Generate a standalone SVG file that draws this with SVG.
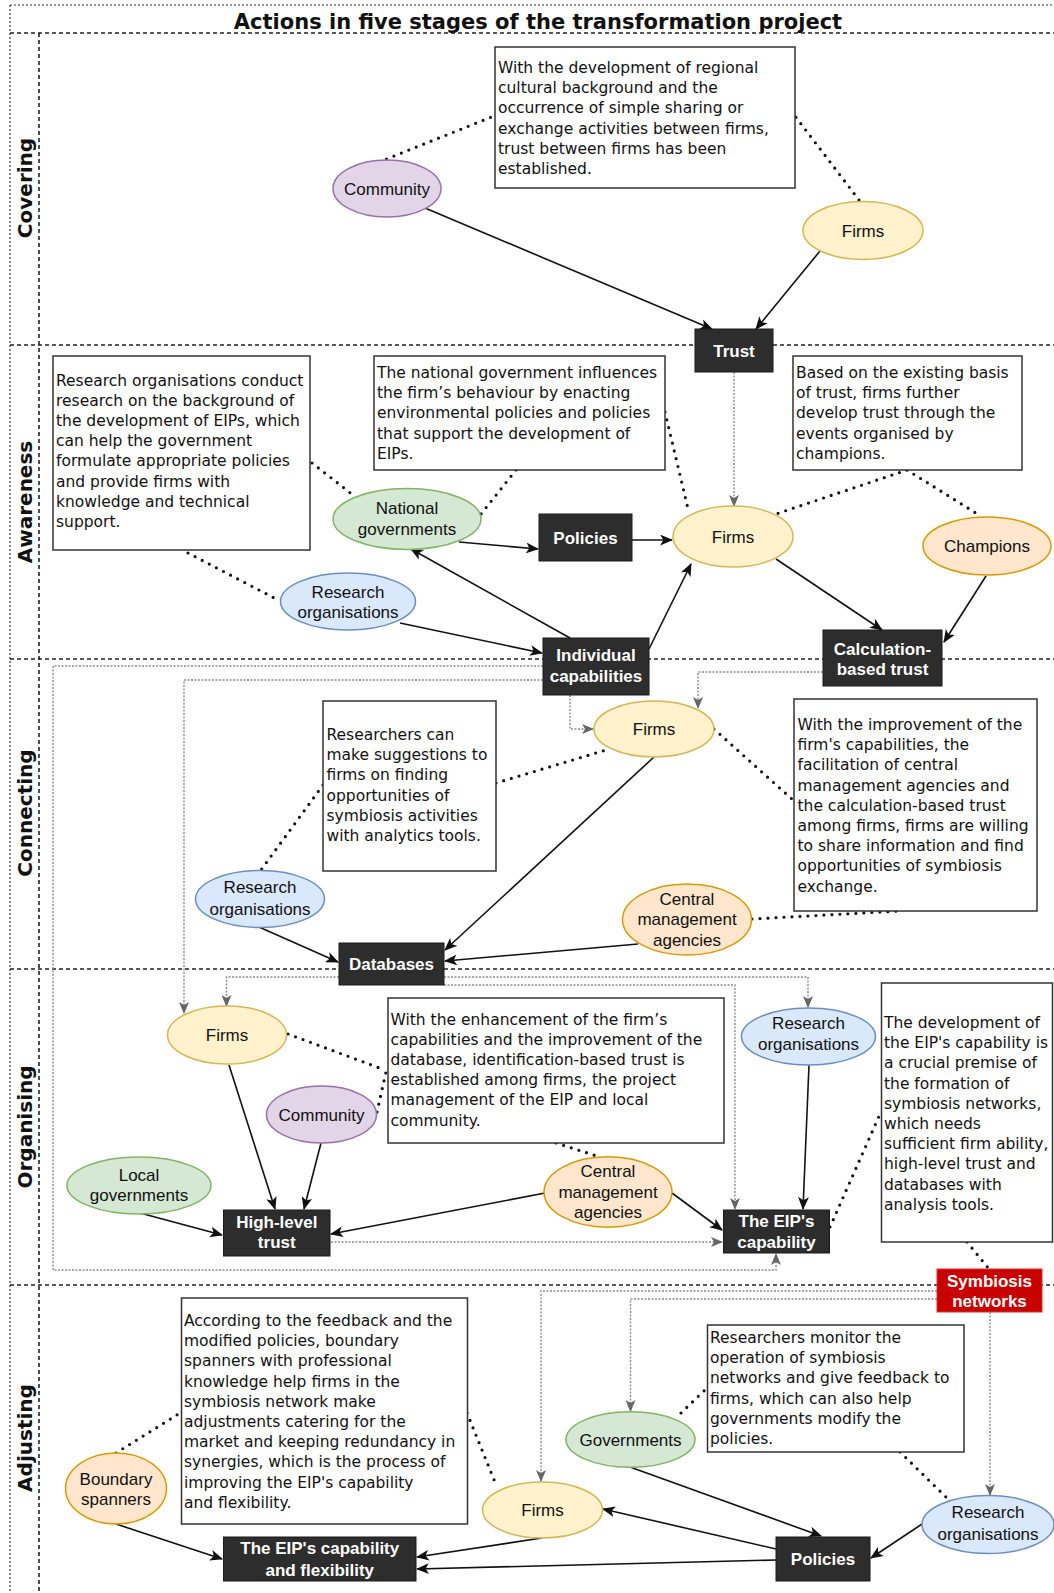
<svg xmlns="http://www.w3.org/2000/svg" width="1054" height="1593" viewBox="0 0 1054 1593">
<style>
.bg{fill:#fff}
.frame{stroke:#333;stroke-width:1.2;stroke-dasharray:2,2;fill:none}
.div{stroke:#222;stroke-width:1.6;stroke-dasharray:4,3;fill:none}
.lane{font-family:"DejaVu Sans",Verdana,sans-serif;font-weight:bold;font-size:20px;fill:#111;text-anchor:middle}
.title{font-family:"DejaVu Sans",Verdana,sans-serif;font-weight:bold;font-size:21px;fill:#111;text-anchor:middle}
.tb{fill:#fff;stroke:#333;stroke-width:1.5}
.tt{font-family:"DejaVu Sans",Verdana,sans-serif;font-size:15.5px;fill:#111}
.nl{font-family:"Liberation Sans",Arial,sans-serif;font-size:17px;fill:#111;text-anchor:middle}
.dk{fill:#2d2d2d;stroke:#1a1a1a;stroke-width:1}
.red{fill:#c80000;stroke:#e03030;stroke-width:1}
.dl{font-family:"Liberation Sans",Arial,sans-serif;font-weight:bold;font-size:17px;fill:#fff;text-anchor:middle}
.pu{fill:#e1d5e7;stroke:#9673a6;stroke-width:1.5}
.ye{fill:#fff2cc;stroke:#d6b656;stroke-width:1.5}
.gr{fill:#d5e8d4;stroke:#82b366;stroke-width:1.5}
.bl{fill:#dae8fc;stroke:#6c8ebf;stroke-width:1.5}
.or{fill:#ffe6cc;stroke:#d79b00;stroke-width:1.5}
.ar{stroke:#111;stroke-width:1.6;fill:none;marker-end:url(#ah)}
.ga{stroke:#8a8a8a;stroke-width:1.4;stroke-dasharray:2,1.5;fill:none;marker-end:url(#gh)}
.dt{stroke:#111;stroke-width:3.2;stroke-dasharray:0,8;stroke-linecap:round;fill:none}
</style>
<defs>
<marker id="ah" viewBox="0 0 12 10" refX="11" refY="5" markerWidth="13" markerHeight="11" markerUnits="userSpaceOnUse" orient="auto"><path d="M0,0 L12,5 L0,10 L3,5 z" fill="#111"/></marker>
<marker id="gh" viewBox="0 0 12 10" refX="11" refY="5" markerWidth="12" markerHeight="10" markerUnits="userSpaceOnUse" orient="auto"><path d="M0,0 L12,5 L0,10 L3,5 z" fill="#666"/></marker>
</defs>
<rect class="bg" x="0" y="0" width="1054" height="1593"/>

<g id="frame">
<line class="frame" x1="10" y1="5" x2="1054" y2="5"/>
<line class="frame" x1="10" y1="5" x2="10" y2="1593"/>
<line class="div" x1="10" y1="33" x2="1054" y2="33"/>
<line class="div" x1="39" y1="33" x2="39" y2="1593"/>
<line class="div" x1="10" y1="345" x2="1054" y2="345"/>
<line class="div" x1="10" y1="659" x2="1054" y2="659"/>
<line class="div" x1="10" y1="969" x2="1054" y2="969"/>
<line class="div" x1="10" y1="1285" x2="1054" y2="1285"/>
<text class="title" x="538" y="28.5">Actions in five stages of the transformation project</text>
<text class="lane" x="32" y="188" transform="rotate(-90 32 188)">Covering</text>
<text class="lane" x="32" y="502" transform="rotate(-90 32 502)">Awareness</text>
<text class="lane" x="32" y="813" transform="rotate(-90 32 813)">Connecting</text>
<text class="lane" x="32" y="1127" transform="rotate(-90 32 1127)">Organising</text>
<text class="lane" x="32" y="1438" transform="rotate(-90 32 1438)">Adjusting</text>
</g>

<g id="connectors">
<line class="ar" x1="425" y1="208" x2="712" y2="329"/>
<line class="ar" x1="820" y1="251" x2="756" y2="329"/>
<line class="ga" x1="734" y1="372" x2="734" y2="506"/>
<line class="ar" x1="459" y1="542" x2="538" y2="549"/>
<line class="ar" x1="632" y1="540" x2="672" y2="540"/>
<line class="ar" x1="570" y1="638" x2="411" y2="549"/>
<line class="ar" x1="400" y1="623" x2="542" y2="653"/>
<line class="ar" x1="649" y1="649" x2="691" y2="564"/>
<line class="ar" x1="776" y1="559" x2="882" y2="630"/>
<line class="ar" x1="986" y1="576" x2="944" y2="642"/>
<path class="ga" d="M570,695 V729 H593"/>
<path class="ga" d="M823,672 H698 V708"/>
<path class="ga" d="M543,680 H184 V1013"/>
<path class="ga" d="M543,666 H53 V1270 H776 V1254"/>
<line class="ar" x1="654" y1="757" x2="445" y2="950"/>
<line class="ar" x1="259" y1="927" x2="338" y2="962"/>
<line class="ar" x1="638" y1="944" x2="445" y2="961"/>
<path class="ga" d="M339,977 H226.5 V1006"/>
<path class="ga" d="M444,977 H808 V1007"/>
<path class="ga" d="M444,985 H735 V1209"/>
<line class="ar" x1="229" y1="1065" x2="275" y2="1209"/>
<line class="ar" x1="321" y1="1143" x2="304" y2="1209"/>
<line class="ar" x1="140" y1="1213" x2="222" y2="1235"/>
<line class="ar" x1="545" y1="1193" x2="331" y2="1234"/>
<line class="ar" x1="672" y1="1193" x2="722" y2="1230"/>
<line class="ar" x1="809" y1="1065" x2="803" y2="1209"/>
<line class="ga" x1="331" y1="1242" x2="722" y2="1242"/>
<path class="ga" d="M937,1291 H541 V1481"/>
<path class="ga" d="M937,1299 H630.5 V1411"/>
<path class="ga" d="M990,1312 V1495"/>
<line class="ar" x1="116" y1="1524" x2="222" y2="1559"/>
<line class="ar" x1="542" y1="1538" x2="417" y2="1557"/>
<line class="ar" x1="776" y1="1560" x2="417" y2="1569"/>
<line class="ar" x1="776" y1="1549" x2="603" y2="1509"/>
<line class="ar" x1="630" y1="1467" x2="821" y2="1536"/>
<line class="ar" x1="922" y1="1524" x2="871" y2="1558"/>
<line class="dt" x1="386.5" y1="159" x2="494" y2="116"/>
<line class="dt" x1="859" y1="200" x2="795" y2="116"/>
<line class="dt" x1="312" y1="463" x2="353" y2="495"/>
<line class="dt" x1="188" y1="553" x2="280" y2="601"/>
<line class="dt" x1="516" y1="470" x2="481" y2="514"/>
<line class="dt" x1="665" y1="412" x2="689" y2="513"/>
<line class="dt" x1="907" y1="470" x2="776" y2="514"/>
<line class="dt" x1="907" y1="470" x2="979" y2="515"/>
<line class="dt" x1="323" y1="785" x2="261" y2="870"/>
<line class="dt" x1="496" y1="783" x2="606" y2="750"/>
<line class="dt" x1="714" y1="729" x2="793" y2="800"/>
<line class="dt" x1="752" y1="919" x2="900" y2="911"/>
<line class="dt" x1="288" y1="1034" x2="385" y2="1070"/>
<line class="dt" x1="377" y1="1112" x2="386" y2="1072"/>
<line class="dt" x1="556" y1="1143" x2="600" y2="1157"/>
<line class="dt" x1="830" y1="1227" x2="880" y2="1114"/>
<line class="dt" x1="967" y1="1242" x2="989" y2="1269"/>
<line class="dt" x1="116" y1="1453" x2="180" y2="1413"/>
<line class="dt" x1="467" y1="1413" x2="497" y2="1487"/>
<line class="dt" x1="681" y1="1413" x2="707" y2="1388"/>
<line class="dt" x1="900" y1="1452" x2="949" y2="1500"/>
</g>

<g id="note-covering">
<rect class="tb" x="495" y="47" width="300" height="141"/>
<text class="tt"><tspan x="498" y="73">With the development of regional</tspan><tspan x="498" y="93.2">cultural background and the</tspan><tspan x="498" y="113.4">occurrence of simple sharing or</tspan><tspan x="498" y="133.6">exchange activities between firms,</tspan><tspan x="498" y="153.8">trust between firms has been</tspan><tspan x="498" y="174">established.</tspan></text>
</g>
<g id="community-1"><ellipse class="pu" cx="387" cy="188.5" rx="54" ry="28.5"/><text class="nl" x="387" y="194.5">Community</text></g>
<g id="firms-1"><ellipse class="ye" cx="863" cy="230.5" rx="60" ry="29"/><text class="nl" x="863" y="236.5">Firms</text></g>
<g id="trust"><rect class="dk" x="695" y="329" width="78" height="43"/><text class="dl" x="734" y="356.5">Trust</text></g>

<g id="note-research-1">
<rect class="tb" x="53" y="356" width="257" height="194"/>
<text class="tt"><tspan x="56" y="385.5">Research organisations conduct</tspan><tspan x="56" y="405.7">research on the background of</tspan><tspan x="56" y="425.9">the development of EIPs, which</tspan><tspan x="56" y="446.1">can help the government</tspan><tspan x="56" y="466.3">formulate appropriate policies</tspan><tspan x="56" y="486.5">and provide firms with</tspan><tspan x="56" y="506.7">knowledge and technical</tspan><tspan x="56" y="526.9">support.</tspan></text>
</g>
<g id="note-national">
<rect class="tb" x="374" y="356" width="291" height="114"/>
<text class="tt"><tspan x="377" y="378">The national government influences</tspan><tspan x="377" y="398.2">the firm’s behaviour by enacting</tspan><tspan x="377" y="418.4">environmental policies and policies</tspan><tspan x="377" y="438.6">that support the development of</tspan><tspan x="377" y="458.8">EIPs.</tspan></text>
</g>
<g id="note-champions">
<rect class="tb" x="793" y="356" width="229" height="114"/>
<text class="tt"><tspan x="796" y="378">Based on the existing basis</tspan><tspan x="796" y="398.2">of trust, firms further</tspan><tspan x="796" y="418.4">develop trust through the</tspan><tspan x="796" y="438.6">events organised by</tspan><tspan x="796" y="458.8">champions.</tspan></text>
</g>
<g id="national-governments"><ellipse class="gr" cx="407" cy="519" rx="74" ry="30.5"/><text class="nl"><tspan x="407" y="514">National</tspan><tspan x="407" y="534.5">governments</tspan></text></g>
<g id="research-1"><ellipse class="bl" cx="348" cy="601.5" rx="67.5" ry="28.5"/><text class="nl"><tspan x="348" y="597.5">Research</tspan><tspan x="348" y="617.7">organisations</tspan></text></g>
<g id="policies-1"><rect class="dk" x="539" y="514" width="93" height="47"/><text class="dl" x="585.5" y="543.5">Policies</text></g>
<g id="firms-2"><ellipse class="ye" cx="733" cy="536.5" rx="60" ry="30.5"/><text class="nl" x="733" y="542.5">Firms</text></g>
<g id="champions"><ellipse class="or" cx="987" cy="546" rx="64" ry="29"/><text class="nl" x="987" y="552">Champions</text></g>
<g id="individual-capabilities"><rect class="dk" x="543" y="638" width="106" height="57"/><text class="dl"><tspan x="596" y="660.7">Individual</tspan><tspan x="596" y="682">capabilities</tspan></text></g>
<g id="calculation-trust"><rect class="dk" x="823" y="630" width="119" height="56"/><text class="dl"><tspan x="882.5" y="654.6">Calculation-</tspan><tspan x="882.5" y="674.8">based trust</tspan></text></g>

<g id="firms-3"><ellipse class="ye" cx="654" cy="729" rx="60" ry="28"/><text class="nl" x="654" y="735">Firms</text></g>
<g id="note-researchers">
<rect class="tb" x="323" y="701" width="173" height="170"/>
<text class="tt"><tspan x="326.5" y="740">Researchers can</tspan><tspan x="326.5" y="760.2">make suggestions to</tspan><tspan x="326.5" y="780.4">firms on finding</tspan><tspan x="326.5" y="800.6">opportunities of</tspan><tspan x="326.5" y="820.8">symbiosis activities</tspan><tspan x="326.5" y="841">with analytics tools.</tspan></text>
</g>
<g id="note-improvement">
<rect class="tb" x="794" y="699" width="243" height="212"/>
<text class="tt"><tspan x="797.5" y="730">With the improvement of the</tspan><tspan x="797.5" y="750.2">firm's capabilities, the</tspan><tspan x="797.5" y="770.4">facilitation of central</tspan><tspan x="797.5" y="790.6">management agencies and</tspan><tspan x="797.5" y="810.8">the calculation-based trust</tspan><tspan x="797.5" y="831">among firms, firms are willing</tspan><tspan x="797.5" y="851.2">to share information and find</tspan><tspan x="797.5" y="871.4">opportunities of symbiosis</tspan><tspan x="797.5" y="891.6">exchange.</tspan></text>
</g>
<g id="research-2"><ellipse class="bl" cx="260" cy="899" rx="64.5" ry="28.5"/><text class="nl"><tspan x="260" y="893.3">Research</tspan><tspan x="260" y="915.2">organisations</tspan></text></g>
<g id="central-1"><ellipse class="or" cx="687" cy="919.5" rx="64.5" ry="35.5"/><text class="nl"><tspan x="687" y="905">Central</tspan><tspan x="687" y="925.2">management</tspan><tspan x="687" y="946">agencies</tspan></text></g>
<g id="databases"><rect class="dk" x="339" y="943" width="105" height="42"/><text class="dl" x="391.5" y="970">Databases</text></g>

<g id="firms-4"><ellipse class="ye" cx="227" cy="1035" rx="59.5" ry="29"/><text class="nl" x="227" y="1041">Firms</text></g>
<g id="note-enhancement">
<rect class="tb" x="388" y="998" width="336" height="145"/>
<text class="tt"><tspan x="390.5" y="1024.5">With the enhancement of the firm’s</tspan><tspan x="390.5" y="1044.7">capabilities and the improvement of the</tspan><tspan x="390.5" y="1064.9">database, identification-based trust is</tspan><tspan x="390.5" y="1085.1">established among firms, the project</tspan><tspan x="390.5" y="1105.3">management of the EIP and local</tspan><tspan x="390.5" y="1125.5">community.</tspan></text>
</g>
<g id="community-2"><ellipse class="pu" cx="321.5" cy="1114.5" rx="55" ry="28.5"/><text class="nl" x="321.5" y="1120.5">Community</text></g>
<g id="local-governments"><ellipse class="gr" cx="139" cy="1185.5" rx="72" ry="28.5"/><text class="nl"><tspan x="139" y="1180.6">Local</tspan><tspan x="139" y="1200.8">governments</tspan></text></g>
<g id="high-level-trust"><rect class="dk" x="223.5" y="1210" width="106.5" height="46"/><text class="dl"><tspan x="276.75" y="1227.7">High-level</tspan><tspan x="276.75" y="1247.8">trust</tspan></text></g>
<g id="central-2"><ellipse class="or" cx="608" cy="1192" rx="64" ry="35.3"/><text class="nl"><tspan x="608" y="1177.2">Central</tspan><tspan x="608" y="1198">management</tspan><tspan x="608" y="1218.3">agencies</tspan></text></g>
<g id="eip-capability"><rect class="dk" x="723.5" y="1210" width="106" height="43"/><text class="dl"><tspan x="776.5" y="1226.7">The EIP's</tspan><tspan x="776.5" y="1247.8">capability</tspan></text></g>
<g id="research-3"><ellipse class="bl" cx="808.5" cy="1036.5" rx="67" ry="28.5"/><text class="nl"><tspan x="808.5" y="1029">Research</tspan><tspan x="808.5" y="1050">organisations</tspan></text></g>
<g id="note-development">
<rect class="tb" x="881.5" y="983" width="171" height="259"/>
<text class="tt"><tspan x="884" y="1028">The development of</tspan><tspan x="884" y="1048.2">the EIP's capability is</tspan><tspan x="884" y="1068.4">a crucial premise of</tspan><tspan x="884" y="1088.6">the formation of</tspan><tspan x="884" y="1108.8">symbiosis networks,</tspan><tspan x="884" y="1129">which needs</tspan><tspan x="884" y="1149.2">sufficient firm ability,</tspan><tspan x="884" y="1169.4">high-level trust and</tspan><tspan x="884" y="1189.6">databases with</tspan><tspan x="884" y="1209.8">analysis tools.</tspan></text>
</g>
<g id="symbiosis-networks"><rect class="red" x="937" y="1269" width="105" height="43"/><text class="dl"><tspan x="989.5" y="1286.5">Symbiosis</tspan><tspan x="989.5" y="1307.3">networks</tspan></text></g>

<g id="note-feedback">
<rect class="tb" x="181.5" y="1298" width="286" height="226"/>
<text class="tt"><tspan x="184" y="1326">According to the feedback and the</tspan><tspan x="184" y="1346.2">modified policies, boundary</tspan><tspan x="184" y="1366.4">spanners with professional</tspan><tspan x="184" y="1386.6">knowledge help firms in the</tspan><tspan x="184" y="1406.8">symbiosis network make</tspan><tspan x="184" y="1427">adjustments catering for the</tspan><tspan x="184" y="1447.2">market and keeping redundancy in</tspan><tspan x="184" y="1467.4">synergies, which is the process of</tspan><tspan x="184" y="1487.6">improving the EIP's capability</tspan><tspan x="184" y="1507.8">and flexibility.</tspan></text>
</g>
<g id="note-monitor">
<rect class="tb" x="707.5" y="1325" width="256.5" height="127"/>
<text class="tt"><tspan x="710" y="1343">Researchers monitor the</tspan><tspan x="710" y="1363.2">operation of symbiosis</tspan><tspan x="710" y="1383.4">networks and give feedback to</tspan><tspan x="710" y="1403.6">firms, which can also help</tspan><tspan x="710" y="1423.8">governments modify the</tspan><tspan x="710" y="1444">policies.</tspan></text>
</g>
<g id="boundary-spanners"><ellipse class="or" cx="116" cy="1488.5" rx="50.5" ry="35.5"/><text class="nl"><tspan x="116" y="1484.8">Boundary</tspan><tspan x="116" y="1505">spanners</tspan></text></g>
<g id="firms-5"><ellipse class="ye" cx="542.5" cy="1510" rx="60" ry="28"/><text class="nl" x="542.5" y="1516">Firms</text></g>
<g id="governments"><ellipse class="gr" cx="630.5" cy="1439.5" rx="64.5" ry="27.7"/><text class="nl" x="630.5" y="1445.5">Governments</text></g>
<g id="research-4"><ellipse class="bl" cx="988" cy="1524.5" rx="66" ry="29"/><text class="nl"><tspan x="988" y="1518.4">Research</tspan><tspan x="988" y="1540.3">organisations</tspan></text></g>
<g id="eip-capability-flexibility"><rect class="dk" x="223.5" y="1537" width="192.5" height="44"/><text class="dl"><tspan x="319.75" y="1554.4">The EIP's capability</tspan><tspan x="319.75" y="1575.6">and flexibility</tspan></text></g>
<g id="policies-2"><rect class="dk" x="776" y="1537" width="94" height="44"/><text class="dl" x="823" y="1564.8">Policies</text></g>
</svg>
